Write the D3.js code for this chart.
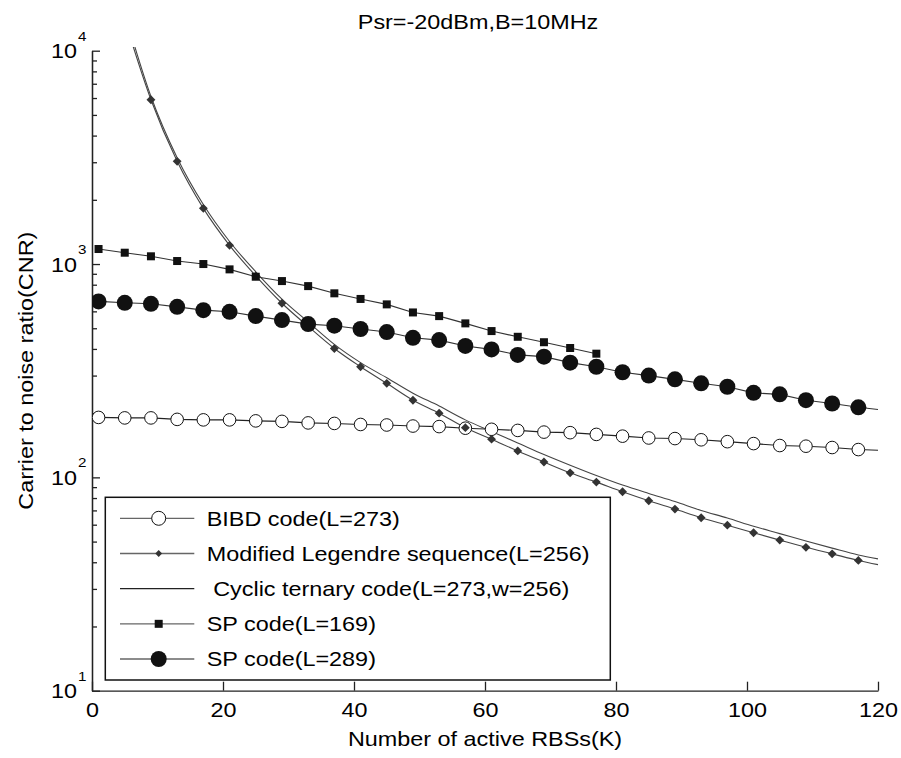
<!DOCTYPE html>
<html>
<head>
  <title>CNR vs active RBSs</title>
  <meta charset="utf8">
  <style type="text/css">
    body { margin: 0; background: #fff; }
    svg text { font-family: "Liberation Sans", Arial, sans-serif; fill: #000; white-space: pre; }
    .axis path, .axis line { stroke: #222; stroke-width: 1.3; }
  </style>
</head>
<body>

<script src="https://d3js.org/d3.v7.min.js"></script>

<script type="text/javascript">

var width = 901, height = 758;
var sx = 1.17; // the original text is a bit wider than Arial

// marker positions (K) shared by the full-length series
var kMarks = [1, 5, 9, 13, 17, 21, 25, 29, 33, 37, 41, 45, 49, 53, 57,
              61, 65, 69, 73, 77, 81, 85, 89, 93, 97, 101, 105, 109, 113, 117];

var bibd = [191, 190, 190, 187, 186, 186, 184, 183, 180, 179, 177, 176, 174, 173, 170,
            168, 166, 163, 162, 159, 156, 153, 152, 150, 147, 144, 141, 140, 138, 135];
var bibdEnd = 134;

var sp289 = [668, 658, 651, 630, 608, 597, 570, 546, 523, 514, 496, 480, 451, 440, 413,
             398, 375, 368, 345, 330, 311, 300, 288, 276, 266, 249, 245, 230, 222, 213];
var sp289End = 208;

var kSp169 = [1, 5, 9, 13, 17, 21, 25, 29, 33, 37, 41, 45, 49, 53, 57, 61, 65, 69, 73, 77];
var sp169 = [1176, 1130, 1087, 1033, 1000, 944, 872, 832, 788, 729,
             686, 647, 593, 570, 527, 485, 456, 430, 404, 380];

var kLeg = [5, 9, 13, 17, 21, 25, 29, 33, 37, 41, 45, 49, 53, 57, 61,
            65, 69, 73, 77, 81, 85, 89, 93, 97, 101, 105, 109, 113, 117, 120];
var legendre = [14000, 5890, 3030, 1824, 1224, 880, 655, 510, 402, 330, 276, 230, 200, 171, 151,
                133, 118, 105, 95, 85.6, 77.7, 71, 64.7, 59.7, 55, 50.8, 47, 43.8, 40.8, 39];

var cyclic = [15000, 6100, 3150, 1900, 1275, 920, 685, 535, 420, 345, 293, 248, 216, 186, 164,
              145, 128, 114, 102, 92, 84, 77, 70, 64.5, 59, 54.5, 50.3, 46.6, 43.3, 41.5];

var xTicks = [0, 20, 40, 60, 80, 100, 120];
var yMajor = [10, 100, 1000, 10000];
var yMinor = [20, 30, 40, 50, 60, 70, 80, 90, 200, 300, 400, 500, 600, 700, 800, 900,
              2000, 3000, 4000, 5000, 6000, 7000, 8000, 9000];

var legendNames = ['BIBD code(L=273)', 'Modified Legendre sequence(L=256)',
                   ' Cyclic ternary code(L=273,w=256)', 'SP code(L=169)', 'SP code(L=289)'];

var x = d3.scaleLinear().domain([0, 120]).range([92, 878]);
var y = d3.scaleLog().domain([10, 10000]).range([690.7, 50.7]);

var svg = d3.select('body').append('svg')
    .attr('width', width)
    .attr('height', height);

svg.append('defs').append('clipPath').attr('id', 'plot')
  .append('rect')
    .attr('x', 92).attr('y', 47)
    .attr('width', 800).attr('height', 650);

function label(g, str, px, py, anchor, size) {
  return g.append('text')
    .attr('transform', 'translate(' + px + ',' + py + ') scale(' + sx + ',1)')
    .attr('text-anchor', anchor)
    .style('font-size', size + 'px')
    .text(str);
}

// axes, ticks pointing inward
var xAxis = svg.append('g')
    .attr('class', 'axis')
    .attr('transform', 'translate(0,' + y(10) + ')')
    .call(d3.axisBottom(x).tickValues(xTicks).tickSizeInner(-9).tickSizeOuter(0).tickPadding(12));
xAxis.selectAll('text')
    .attr('transform', 'scale(' + sx + ',1)')
    .style('font-size', '20px')
    .attr('fill', '#000');

svg.append('g')
    .attr('class', 'axis')
    .attr('transform', 'translate(' + x(0) + ',0)')
    .call(d3.axisLeft(y).tickValues(yMinor).tickSizeInner(-5).tickSizeOuter(0).tickFormat(''));

svg.append('g')
    .attr('class', 'axis')
    .attr('transform', 'translate(' + x(0) + ',0)')
    .call(d3.axisLeft(y).tickValues(yMajor).tickSizeInner(-8).tickSizeOuter(0).tickFormat(''));

var yLabels = svg.append('g');
yMajor.forEach(function(v) {
  label(yLabels, '10', 77, y(v) + 7.5, 'end', 20);
  label(yLabels, String(Math.round(Math.log10(v))), 78, y(v) - 10, 'start', 13);
});

label(svg, 'Psr=-20dBm,B=10MHz', 478, 29, 'middle', 20);
label(svg, 'Number of active RBSs(K)', 485, 746, 'middle', 20);
svg.append('text')
    .attr('transform', 'translate(33,' + ((y(10) + y(10000)) / 2) + ') rotate(-90) scale(' + sx + ',1)')
    .attr('text-anchor', 'middle')
    .style('font-size', '20px')
    .text('Carrier to noise ratio(CNR)');

// series
var line = d3.line()
    .x(function(d) { return x(d[0]); })
    .y(function(d) { return y(d[1]); });
var smooth = d3.line()
    .curve(d3.curveMonotoneX)
    .x(function(d) { return x(d[0]); })
    .y(function(d) { return y(d[1]); });

var plot = svg.append('g').attr('clip-path', 'url(#plot)');

var bibdPts = d3.zip(kMarks, bibd);
var sp289Pts = d3.zip(kMarks, sp289);
var sp169Pts = d3.zip(kSp169, sp169);
var legPts = d3.zip(kLeg, legendre);
var cycPts = d3.zip(kLeg, cyclic);

plot.append('path')
    .attr('d', line(bibdPts.concat([[120, bibdEnd]])))
    .attr('fill', 'none').attr('stroke', '#222').attr('stroke-width', 1.1);

plot.append('path')
    .attr('d', smooth(legPts))
    .attr('fill', 'none').attr('stroke', '#444').attr('stroke-width', 1.1);

plot.append('path')
    .attr('d', smooth(cycPts))
    .attr('fill', 'none').attr('stroke', '#444').attr('stroke-width', 1.1);

plot.append('path')
    .attr('d', line(sp169Pts))
    .attr('fill', 'none').attr('stroke', '#333').attr('stroke-width', 1.1);

plot.append('path')
    .attr('d', line(sp289Pts.concat([[120, sp289End]])))
    .attr('fill', 'none').attr('stroke', '#333').attr('stroke-width', 1.1);

var diamond = d3.symbol().type(d3.symbolDiamond2).size(50);

plot.append('g').selectAll('circle')
  .data(bibdPts)
  .enter().append('circle')
    .attr('cx', function(d) { return x(d[0]); })
    .attr('cy', function(d) { return y(d[1]); })
    .attr('r', 6.3)
    .attr('fill', '#fff').attr('stroke', '#111').attr('stroke-width', 1);

plot.append('g').selectAll('path')
  .data(legPts.slice(1, legPts.length - 1))
  .enter().append('path')
    .attr('d', diamond)
    .attr('transform', function(d) { return 'translate(' + x(d[0]) + ',' + y(d[1]) + ')'; })
    .attr('fill', '#333');

plot.append('g').selectAll('rect')
  .data(sp169Pts)
  .enter().append('rect')
    .attr('x', function(d) { return x(d[0]) - 4; })
    .attr('y', function(d) { return y(d[1]) - 4; })
    .attr('width', 8).attr('height', 8)
    .attr('fill', '#111');

plot.append('g').selectAll('circle')
  .data(sp289Pts)
  .enter().append('circle')
    .attr('cx', function(d) { return x(d[0]); })
    .attr('cy', function(d) { return y(d[1]); })
    .attr('r', 8)
    .attr('fill', '#111');

// legend
var leg = svg.append('g');
leg.append('rect')
    .attr('x', 105.3).attr('y', 497.3)
    .attr('width', 505).attr('height', 182.7)
    .attr('fill', '#fff').attr('stroke', '#111').attr('stroke-width', 1.5);

var rowY = d3.scalePoint().domain(d3.range(legendNames.length)).range([518.3, 659]);

legendNames.forEach(function(name, i) {
  var cy = rowY(i);
  leg.append('line')
      .attr('x1', 120).attr('x2', 194.3)
      .attr('y1', cy).attr('y2', cy)
      .attr('stroke', i === 2 ? '#222' : '#666').attr('stroke-width', 1.3);
  if (i === 0) {
    leg.append('circle').attr('cx', 158.7).attr('cy', cy).attr('r', 7)
        .attr('fill', '#fff').attr('stroke', '#111');
  } else if (i === 1) {
    leg.append('path').attr('d', d3.symbol().type(d3.symbolDiamond2).size(30))
        .attr('transform', 'translate(158.7,' + cy + ')').attr('fill', '#333');
  } else if (i === 3) {
    leg.append('rect').attr('x', 154.7).attr('y', cy - 4)
        .attr('width', 8).attr('height', 8).attr('fill', '#111');
  } else if (i === 4) {
    leg.append('circle').attr('cx', 158.7).attr('cy', cy).attr('r', 8).attr('fill', '#111');
  }
  label(leg, name, 206.7, cy + 7.3, 'start', 20);
});

</script>

</body>
</html>
